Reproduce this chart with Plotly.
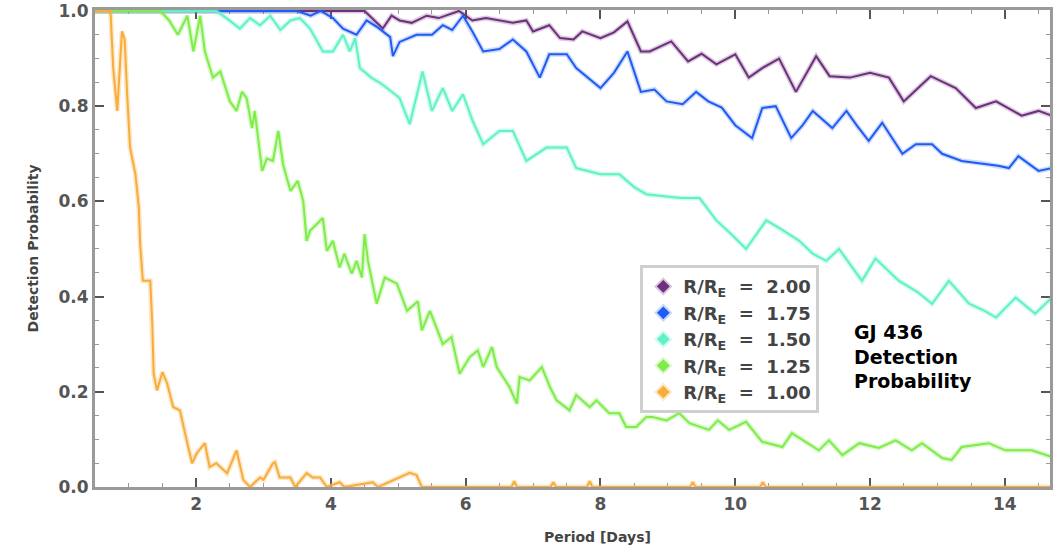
import plotly.graph_objects as go

# ---------------- data ----------------
p200_x = [0.5, 4.5, 4.77, 4.9, 5.02, 5.2, 5.42, 5.6, 5.9, 6.1, 6.3, 6.5, 6.7, 6.9, 7.0, 7.24, 7.4, 7.6, 7.73, 8.0, 8.2, 8.4, 8.6, 8.73,
          9.05, 9.3, 9.5, 9.72, 10.0, 10.2, 10.4, 10.65, 10.9, 11.2, 11.4, 11.7, 12.0, 12.28, 12.5, 12.9, 13.27, 13.57, 13.87, 14.25, 14.5, 14.7]
p200_y = [1.0, 1.0, 0.963, 0.99, 0.98, 0.975, 0.99, 0.985, 1.0, 0.98, 0.985, 0.98, 0.975, 0.98, 0.957, 0.97, 0.943, 0.94, 0.957, 0.943, 0.955, 0.978, 0.915, 0.915,
          0.936, 0.894, 0.91, 0.888, 0.909, 0.86, 0.88, 0.90, 0.83, 0.905, 0.863, 0.86, 0.87, 0.86, 0.81, 0.863, 0.838, 0.796, 0.81, 0.78, 0.79, 0.78]

p175_x = [0.5, 3.5, 3.7, 3.85, 4.03, 4.18, 4.38, 4.53, 4.7, 4.88, 4.92, 5.02, 5.27, 5.5, 5.66, 5.8, 5.96, 6.1, 6.26, 6.5, 6.7, 6.9, 7.1, 7.24,
          7.5, 7.64, 8.0, 8.2, 8.4, 8.6, 8.8, 8.98, 9.22, 9.42, 9.6, 9.8, 10.0, 10.25, 10.4, 10.6, 10.83, 11.0, 11.15, 11.44, 11.65, 11.8,
          11.98, 12.18, 12.48, 12.68, 12.92, 13.07, 13.36, 13.66, 13.9, 14.06, 14.2, 14.5, 14.7]
p175_y = [1.0, 1.0, 0.99, 1.0, 0.985, 0.963, 0.95, 0.98, 0.965, 0.945, 0.905, 0.935, 0.95, 0.95, 0.97, 0.96, 0.99, 0.957, 0.915, 0.92, 0.94, 0.915, 0.86, 0.909,
          0.909, 0.88, 0.838, 0.87, 0.915, 0.83, 0.835, 0.81, 0.804, 0.83, 0.81, 0.797, 0.76, 0.733, 0.796, 0.80, 0.733, 0.76, 0.79, 0.754, 0.79, 0.76,
          0.727, 0.765, 0.70, 0.72, 0.72, 0.70, 0.685, 0.68, 0.675, 0.67, 0.695, 0.664, 0.67]

p150_x = [0.5, 2.3, 2.45, 2.65, 2.8, 2.95, 3.1, 3.25, 3.4, 3.54, 3.69, 3.88, 4.03, 4.18, 4.28, 4.36, 4.43, 4.6, 4.77, 5.02, 5.17, 5.36, 5.5, 5.66,
          5.8, 5.96, 6.1, 6.26, 6.5, 6.7, 6.9, 7.2, 7.5, 7.64, 8.0, 8.28, 8.5, 8.68, 8.98, 9.2, 9.47, 9.72, 9.95, 10.16, 10.46, 10.7, 10.95,
          11.15, 11.35, 11.54, 11.88, 12.08, 12.43, 12.7, 12.92, 13.17, 13.47, 13.7, 13.87, 14.16, 14.45, 14.7]
p150_y = [1.0, 1.0, 0.985, 0.963, 0.985, 0.97, 0.99, 0.96, 0.98, 0.985, 0.963, 0.915, 0.915, 0.95, 0.915, 0.943, 0.88, 0.86, 0.845, 0.817, 0.762, 0.873, 0.79, 0.838,
          0.79, 0.825, 0.77, 0.72, 0.748, 0.748, 0.685, 0.713, 0.713, 0.67, 0.657, 0.657, 0.63, 0.615, 0.61, 0.607, 0.607, 0.56, 0.53, 0.50, 0.56, 0.54, 0.517,
          0.49, 0.475, 0.50, 0.433, 0.48, 0.433, 0.41, 0.385, 0.433, 0.385, 0.37, 0.356, 0.398, 0.364, 0.398]

p125_x = [0.5, 1.47, 1.6, 1.73, 1.87, 1.96, 2.06, 2.13, 2.25, 2.36, 2.5, 2.6, 2.68, 2.75, 2.83, 2.87, 2.98, 3.05, 3.14, 3.22, 3.29, 3.4, 3.51, 3.59,
          3.64, 3.69, 3.88, 3.94, 4.03, 4.13, 4.2, 4.31, 4.38, 4.46, 4.5, 4.55, 4.68, 4.8, 4.98, 5.13, 5.29, 5.35, 5.47, 5.66, 5.79, 5.91, 6.06,
          6.18, 6.26, 6.39, 6.46, 6.65, 6.76, 6.8, 6.95, 7.13, 7.25, 7.35, 7.54, 7.64, 7.84, 7.94, 8.13, 8.28, 8.38, 8.53, 8.68, 8.77, 8.98,
          9.17, 9.32, 9.61, 9.74, 9.91, 10.16, 10.4, 10.7, 10.84, 11.24, 11.39, 11.59, 11.84, 12.13, 12.38, 12.62, 12.77, 13.07, 13.21, 13.36,
          13.76, 14.01, 14.4, 14.7]
p125_y = [1.0, 1.0, 0.98, 0.95, 0.99, 0.915, 0.99, 0.915, 0.86, 0.873, 0.81, 0.79, 0.83, 0.817, 0.754, 0.79, 0.664, 0.69, 0.685, 0.748, 0.678, 0.622, 0.643, 0.60,
          0.517, 0.538, 0.565, 0.496, 0.517, 0.461, 0.49, 0.448, 0.475, 0.44, 0.531, 0.475, 0.385, 0.44, 0.427, 0.37, 0.39, 0.329, 0.37, 0.30, 0.315, 0.238, 0.273,
          0.287, 0.252, 0.294, 0.252, 0.21, 0.175, 0.231, 0.224, 0.252, 0.21, 0.182, 0.161, 0.193, 0.168, 0.182, 0.155, 0.155, 0.126, 0.126, 0.147, 0.147, 0.14,
          0.155, 0.134, 0.12, 0.14, 0.12, 0.137, 0.095, 0.084, 0.113, 0.077, 0.098, 0.067, 0.092, 0.082, 0.098, 0.077, 0.092, 0.061, 0.057, 0.084,
          0.092, 0.077, 0.077, 0.063]

p100_x = [0.5, 0.73, 0.77, 0.83, 0.9, 0.94, 0.98, 1.02, 1.1, 1.15, 1.17, 1.21, 1.32, 1.35, 1.37, 1.42, 1.5, 1.57, 1.66, 1.76, 1.87, 1.94, 2.01, 2.13,
          2.2, 2.3, 2.46, 2.6, 2.7, 2.8, 2.95, 3.0, 3.14, 3.17, 3.24, 3.4, 3.47, 3.64, 3.73, 3.84, 3.94, 4.13, 4.2, 4.62, 4.7, 5.17, 5.27, 5.35,
          6.68, 6.72, 6.76, 7.26, 7.3, 7.34, 7.8, 7.84, 7.88, 9.33, 9.37, 9.41, 10.37, 10.41, 10.45, 14.7]
p100_y = [1.0, 1.0, 0.88, 0.79, 0.957, 0.94, 0.817, 0.713, 0.657, 0.587, 0.51, 0.433, 0.433, 0.343, 0.238, 0.203, 0.241, 0.218, 0.168, 0.161, 0.092, 0.05, 0.071, 0.092,
          0.042, 0.05, 0.029, 0.077, 0.015, 0.0, 0.02, 0.015, 0.05, 0.052, 0.02, 0.02, 0.0, 0.029, 0.02, 0.02, 0.0, 0.01, 0.0, 0.01, 0.0, 0.03, 0.025, 0.0,
          0.0, 0.012, 0.0, 0.0, 0.01, 0.0, 0.0, 0.012, 0.0, 0.0, 0.01, 0.0, 0.0, 0.01, 0.0, 0.0]

series_labels = ["2.00", "1.75", "1.50", "1.25", "1.00"]
series_x = [p200_x, p175_x, p150_x, p125_x, p100_x]
series_y = [p200_y, p175_y, p150_y, p125_y, p100_y]
colors = ["#6e2f7c", "#1f5cf2", "#5ff2c6", "#7fec4a", "#f7ad3b"]
shadows = ["rgba(110,47,124,0.25)", "rgba(31,92,242,0.22)", "rgba(95,242,198,0.3)", "rgba(127,236,74,0.3)", "rgba(247,173,59,0.3)"]
halos = ["#d8c6dc", "#c9d8fb", "#d4fbef", "#dcf9cf", "#fde7c6"]

x_ticks = [2, 4, 6, 8, 10, 12, 14]
y_ticks = [0.0, 0.2, 0.4, 0.6, 0.8, 1.0]
y_tick_text = ["0.0", "0.2", "0.4", "0.6", "0.8", "1.0"]

# ---------------- figure ----------------
fig = go.Figure()
for xs, ys, c, s in zip(series_x, series_y, colors, shadows):
    fig.add_trace(go.Scatter(x=xs, y=ys, mode="lines", line=dict(color=s, width=5),
                             showlegend=False, hoverinfo="skip"))
    fig.add_trace(go.Scatter(x=xs, y=ys, mode="lines", line=dict(color=c, width=2),
                             showlegend=False))
for lab, c, h in zip(series_labels, colors, halos):
    fig.add_trace(go.Scatter(x=[None], y=[None], mode="markers",
                             marker=dict(symbol="diamond", size=11, color=c, line=dict(color=h, width=3)),
                             name="R/R<sub>E</sub>  =  " + lab))

font_main = "DejaVu Sans"
axis_common = dict(showline=True, linecolor="#9a9a9a", linewidth=3, mirror="ticks",
                   ticks="inside", tickcolor="#555", ticklen=9, tickwidth=2,
                   showgrid=False, zeroline=False, layer="below traces", automargin=False,
                   tickfont=dict(family=font_main, size=17, color="#555", weight="bold"))

fig.update_xaxes(range=[0.5, 14.67], tickvals=x_ticks,
                 minor=dict(dtick=0.5, ticks="inside", ticklen=4, tickcolor="#999", tickwidth=1),
                 **axis_common)
fig.update_yaxes(range=[0, 1.002], tickvals=y_ticks, ticktext=y_tick_text,
                 minor=dict(dtick=0.05, ticks="inside", ticklen=4, tickcolor="#999", tickwidth=1),
                 **axis_common)

fig.add_annotation(text="Period [Days]", xref="paper", yref="paper", x=0.526, y=-0.105,
                   showarrow=False, xanchor="center", yanchor="middle",
                   font=dict(family=font_main, size=14, color="#444", weight="bold"))
fig.add_annotation(text="Detection Probability", xref="paper", yref="paper", x=-0.065, y=0.5,
                   showarrow=False, xanchor="center", yanchor="middle", textangle=-90,
                   font=dict(family=font_main, size=14, color="#444", weight="bold"))
fig.add_annotation(text="GJ 436<br>Detection<br>Probability", xref="paper", yref="paper",
                   x=0.793, y=0.352, xanchor="left", yanchor="top", align="left", showarrow=False,
                   font=dict(family=font_main, size=19, color="#000", weight="bold"))

fig.update_layout(
    width=1053, height=553,
    margin=dict(l=95, r=3, t=10, b=66),
    paper_bgcolor="white", plot_bgcolor="white",
    showlegend=True, hovermode=False,
    legend=dict(x=0.571, y=0.465, xanchor="left", yanchor="top",
                bgcolor="white", bordercolor="#cfcfcf", borderwidth=3,
                font=dict(family=font_main, size=18, color="#444", weight="bold"),
                itemsizing="constant", tracegroupgap=0),
)

fig.write_html("out.html", config={"displayModeBar": False},
               post_script="document.body.style.margin='0px';document.body.style.overflow='hidden';")
